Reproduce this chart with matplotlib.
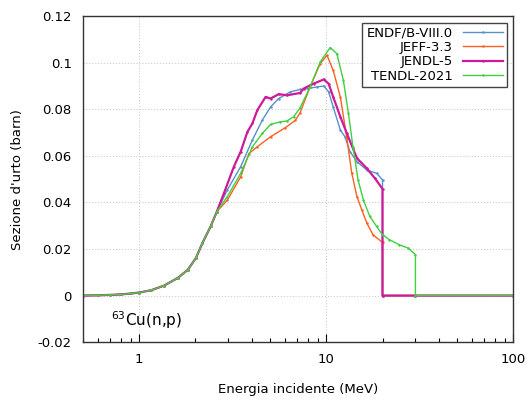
import matplotlib.pyplot as plt
from matplotlib.ticker import FuncFormatter, LogLocator, NullFormatter

# common low-energy part (all libraries nearly identical)
E_low = [0.5, 0.6, 0.7, 0.8, 0.906, 1.0, 1.16, 1.36, 1.61, 1.82, 2.01, 2.18, 2.41, 2.6]
s_low = [0.0, 0.0001, 0.0003, 0.0005, 0.0009, 0.0013, 0.0023, 0.0043, 0.0076, 0.0111, 0.0161, 0.0226, 0.0297, 0.0360]

# ENDF/B-VIII.0
endf_E = E_low + [2.96, 3.49, 4.03, 4.55, 5.04, 5.57, 6.43, 7.25, 8.0, 8.92, 9.7, 10.3, 10.9, 11.9,
                  12.6, 13.4, 14.6, 16.5, 18.6, 20.0, 20.0, 30.0, 100.0]
endf_s = s_low + [0.0454, 0.0554, 0.0668, 0.0753, 0.081, 0.0846, 0.0875, 0.0885, 0.0889, 0.0896, 0.090,
                  0.0875, 0.081, 0.0711, 0.0682, 0.0618, 0.0575, 0.0539, 0.0525, 0.0497, 0.0, 0.0, 0.0]

# JEFF-3.3
jeff_E = E_low + [2.96, 3.49, 3.86, 4.28, 5.04, 6.05, 6.85, 7.25, 8.2, 9.29, 10.1, 10.9, 11.9, 12.9,
                  13.7, 14.6, 15.5, 16.5, 17.8, 20.0, 20.0, 30.0, 100.0]
jeff_s = s_low + [0.041, 0.051, 0.061, 0.0639, 0.0682, 0.0721, 0.0753, 0.0785, 0.0896, 0.0996, 0.1032,
                  0.0967, 0.0853, 0.0675, 0.0525, 0.0425, 0.0368, 0.0311, 0.0261, 0.0228, 0.0, 0.0, 0.0]

# JENDL-5
jendl_E = E_low + [2.84, 3.21, 3.49, 3.79, 4.03, 4.28, 4.74, 5.04, 5.57, 6.17, 7.25, 7.58, 8.56, 9.7,
                   10.3, 10.9, 11.9, 12.9, 13.9, 14.6, 16.5, 18.2, 20.0, 20.0, 30.0, 100.0]
jendl_s = s_low + [0.044, 0.0554, 0.0618, 0.0703, 0.0739, 0.0796, 0.0853, 0.0846, 0.0865, 0.086, 0.087,
                   0.0889, 0.091, 0.0928, 0.091, 0.0853, 0.0768, 0.0696, 0.0632, 0.059, 0.0546, 0.0504,
                   0.0458, 0.0, 0.0, 0.0]

# TENDL-2021
tendl_E = E_low + [2.96, 3.49, 4.03, 4.55, 5.04, 5.69, 6.17, 6.7, 7.25, 8.2, 9.29, 10.5, 11.4, 12.35,
                   13.15, 13.9, 14.8, 15.8, 17.1, 18.6, 20.0, 21.8, 24.6, 27.4, 30.0, 30.0, 100.0]
tendl_s = s_low + [0.0425, 0.0525, 0.0639, 0.0696, 0.0735, 0.0746, 0.075, 0.0768, 0.0806, 0.0896, 0.1003,
                   0.1065, 0.1039, 0.0925, 0.0782, 0.0639, 0.0497, 0.0411, 0.034, 0.0297, 0.0261, 0.024,
                   0.0218, 0.0204, 0.0176, 0.0, 0.0]

plt.rcParams['font.family'] = ['DejaVu Sans']
plt.rcParams['font.size'] = 9.5

fig = plt.figure(figsize=(5.28, 4.03), dpi=100)
ax = fig.add_axes([0.157, 0.151, 0.815, 0.809])

ax.plot(endf_E, endf_s, '-', color='#5b8fc9', lw=1.0, marker='.', ms=1.5, label='ENDF/B-VIII.0')
ax.plot(jeff_E, jeff_s, '-', color='#ff6020', lw=1.0, marker='.', ms=1.5, label='JEFF-3.3')
ax.plot(jendl_E, jendl_s, '-', color='#cc1a9a', lw=1.6, marker='.', ms=1.5, label='JENDL-5')
ax.plot(tendl_E, tendl_s, '-', color='#40d040', lw=1.0, marker='.', ms=1.5, label='TENDL-2021')

ax.set_xscale('log')
ax.set_xlim(0.5, 100)
ax.set_ylim(-0.02, 0.12)
ax.set_yticks([-0.02, 0, 0.02, 0.04, 0.06, 0.08, 0.1, 0.12])
ax.yaxis.set_major_formatter(FuncFormatter(lambda v, p: '%g' % round(v, 4)))
ax.xaxis.set_major_formatter(FuncFormatter(lambda v, p: '%g' % v))
ax.xaxis.set_minor_locator(LogLocator(base=10, subs=range(2, 10)))
ax.xaxis.set_minor_formatter(NullFormatter())
ax.tick_params(axis='x', which='major', direction='in', length=6, width=0.8, pad=8)
ax.tick_params(axis='x', which='minor', direction='in', length=3, width=0.8)
ax.tick_params(axis='y', which='both', direction='in', length=0, pad=8)
ax.grid(True, which='major', color='#cccccc', ls=':', lw=0.8)
for sp in ax.spines.values():
    sp.set_linewidth(1.0)
    sp.set_color('#333333')

ax.set_xlabel('Energia incidente (MeV)', labelpad=12)
ax.set_ylabel("Sezione d'urto (barn)", labelpad=10)
ax.text(0.71, -0.0105, r'$^{63}$Cu(n,p)', fontsize=11, va='center', ha='left')

leg = ax.legend(loc='upper right', markerfirst=False, fancybox=False, framealpha=1,
                edgecolor='#444444', borderpad=0.3, labelspacing=0.1, handlelength=3,
                handletextpad=0.8, borderaxespad=0.5)
leg.get_frame().set_linewidth(1.0)
for col in leg._legend_handle_box.get_children():
    col.align = 'right'

fig.savefig('out.png', dpi=100)
